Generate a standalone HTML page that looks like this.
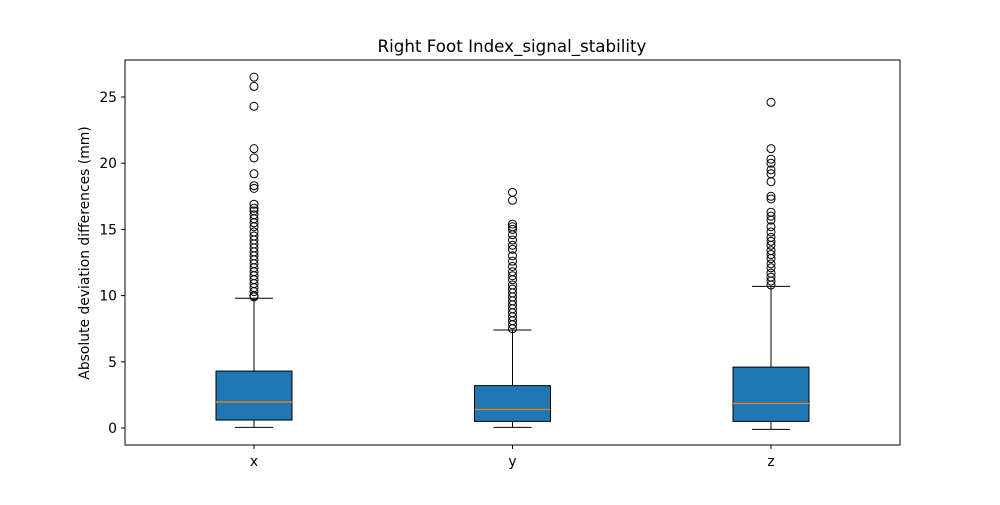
<!DOCTYPE html>
<html><head><meta charset="utf-8"><style>body{margin:0;background:#fff}svg text{font-family:"DejaVu Sans","Liberation Sans",sans-serif}</style></head>
<body>
<svg id="c" width="1000" height="500" xmlns="http://www.w3.org/2000/svg">
<rect x="0" y="0" width="1000" height="500" fill="#fff"/>
<text x="512" y="52" font-size="16.7" text-anchor="middle">Right Foot Index_signal_stability</text>
<text transform="translate(89,253) rotate(-90)" font-size="13.9" text-anchor="middle">Absolute deviation differences (mm)</text>
<g id="plot"></g>
<rect x="125" y="60" width="775" height="385" fill="none" stroke="#000" stroke-width="1"/>
</svg>
<script>
const categories=["x","y","z"];
const whiskerLow=[0.05,0.05,-0.1];
const q1=[0.6,0.5,0.5];
const medians=[1.96,1.4,1.85];
const q3=[4.3,3.2,4.6];
const whiskerHigh=[9.8,7.4,10.7];
const outliersX=[26.5,25.8,24.3,21.1,20.4,19.2,18.3,18.1,16.9,16.6,16.4,16.1,15.8,15.5,15.2,14.8,14.5,14.2,13.9,13.6,13.3,13.0,12.7,12.4,12.1,11.8,11.5,11.2,10.9,10.6,10.3,10.0,9.9];
const outliersY=[17.8,17.2,15.4,15.2,15.0,14.6,14.2,13.8,13.5,13.0,12.6,12.2,11.8,11.5,11.2,10.8,10.5,10.2,9.9,9.6,9.3,9.0,8.7,8.4,8.1,7.8,7.5];
const outliersZ=[24.6,21.1,20.3,20.0,19.5,19.2,18.6,17.5,17.3,16.3,16.0,15.7,15.2,14.8,14.4,14.1,13.8,13.4,13.1,12.8,12.4,12.1,11.7,11.4,11.1,10.8];
const yTicks=[0,5,10,15,20,25];
const outliers=[outliersX,outliersY,outliersZ];
const NS="http://www.w3.org/2000/svg";
const g=document.getElementById('plot');
const yS=v=>428-v*13.24;
const xS=i=>254+i*258.5;
function mk(t,a){const e=document.createElementNS(NS,t);for(const k in a)e.setAttribute(k,a[k]);g.appendChild(e);return e;}
yTicks.forEach(t=>{
 const l=mk('line',{x1:121,x2:125,y1:yS(t),y2:yS(t),stroke:'#000'});
 
 
 const tx=mk('text',{x:117,y:yS(t)+5,'font-size':13.9,'text-anchor':'end'});tx.textContent=t;
 
 
});
categories.forEach((c,i)=>{
 const x=xS(i),w=76;
 const l=mk('line',{x1:x,x2:x,y1:445,y2:449,stroke:'#000'});
 
 
 const tx=mk('text',{x:x,y:466,'font-size':13.9,'text-anchor':'middle'});tx.textContent=c;
 
 
 const wl=mk('line',{x1:x,x2:x,y1:yS(whiskerLow[i]),y2:yS(q1[i]),stroke:'#000'});
 
 
 const wh=mk('line',{x1:x,x2:x,y1:yS(q3[i]),y2:yS(whiskerHigh[i]),stroke:'#000'});
 
 
 const c1=mk('line',{x1:x-19,x2:x+19,y1:yS(whiskerLow[i]),y2:yS(whiskerLow[i]),stroke:'#000'});
 
 
 const c2=mk('line',{x1:x-19,x2:x+19,y1:yS(whiskerHigh[i]),y2:yS(whiskerHigh[i]),stroke:'#000'});
 
 
 const b=mk('rect',{x:x-w/2,y:yS(q3[i]),width:w,height:yS(q1[i])-yS(q3[i]),fill:'#1f77b4',stroke:'#000'});
 
 
 const m=mk('line',{x1:x-w/2,x2:x+w/2,y1:yS(medians[i]),y2:yS(medians[i]),stroke:'#ff7f0e','stroke-width':1.3});
 
 
 outliers[i].forEach(v=>{
  const o=mk('circle',{cx:x,cy:yS(v),r:4,fill:'none',stroke:'#000'});
  
  
 });
});
</script>
</body></html>
